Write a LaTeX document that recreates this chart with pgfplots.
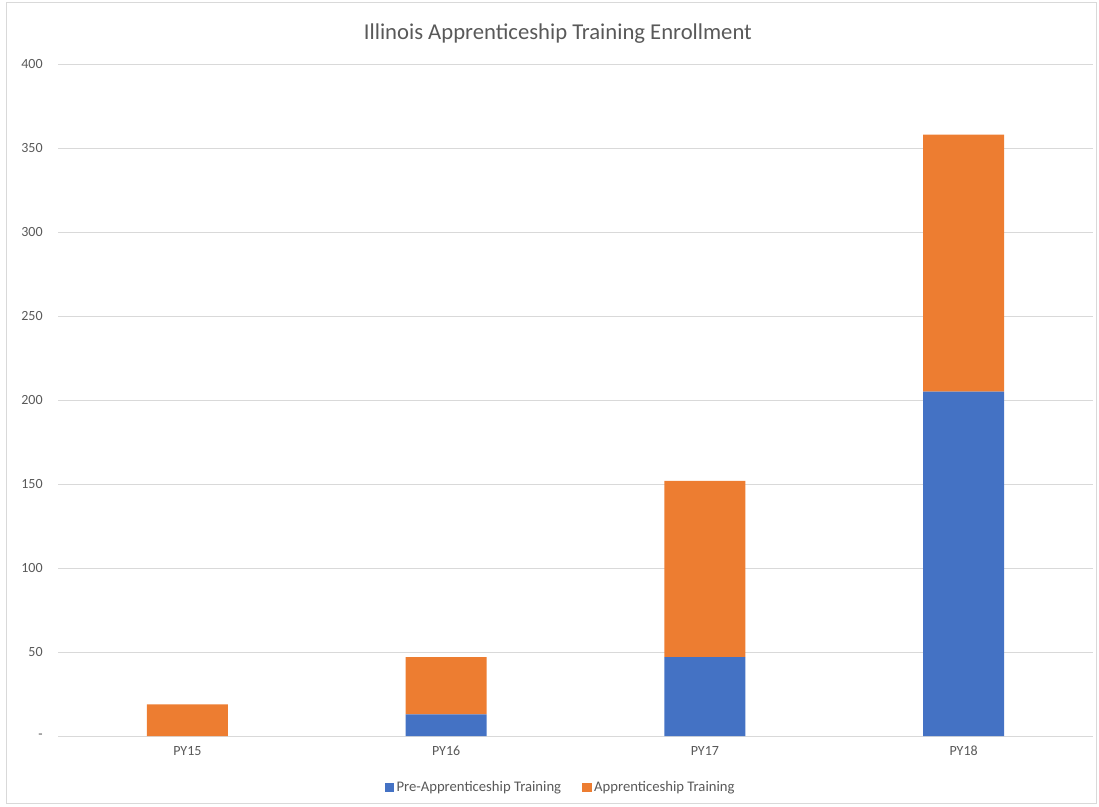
\documentclass[border=0pt]{standalone}
\usepackage{fontspec}
\setmainfont{Carlito}
\usepackage{pgfplots}
\pgfplotsset{compat=1.18}
\definecolor{xlblue}{HTML}{4472C4}
\definecolor{xlorange}{HTML}{ED7D31}
\definecolor{xlgrid}{HTML}{D9D9D9}
\definecolor{xltext}{HTML}{595959}

\begin{document}
\begin{tikzpicture}
\begin{axis}[
  name=ax,
  scale only axis,
  width=776pt, height=504pt,
  ybar stacked, bar width=60.75pt,
  xmin=-0.5, xmax=3.5, ymin=0, ymax=400,
  xtick={0,1,2,3}, xticklabels={PY15,PY16,PY17,PY18},
  ytick={0,50,...,400}, yticklabels={-,50,100,150,200,250,300,350,400},
  ymajorgrids, grid style={xlgrid, line width=0.75pt},
  axis line style={draw=none},
  major tick length=0pt,
  tick label style={font=\fontsize{10.5}{12}\selectfont, text=xltext},
  /pgf/number format/assume math mode=true,
  yticklabel style={xshift=-8pt},
  xticklabel style={yshift=-4pt},
  title={Illinois Apprenticeship Training Enrollment},
  title style={at={(0.483,1)}, anchor=center, yshift=16.5pt,
    font=\fontsize{17}{20}\selectfont, text=xltext},
  legend columns=2,
  legend style={at={(0.486,-0.0759)}, anchor=center, draw=none,
    font=\fontsize{11}{13}\selectfont, text=xltext,
    /tikz/every even column/.append style={column sep=14pt}},
  legend image code/.code={\fill[#1] (0pt,-3.4pt) rectangle (6.8pt,3.4pt);},
]
\addplot[fill=xlblue, draw=none] coordinates {(0,0) (1,13) (2,47) (3,205)};
\addplot[fill=xlorange, draw=none] coordinates {(0,19) (1,34) (2,105) (3,153)};
\legend{Pre-Apprenticeship Training, Apprenticeship Training}
\end{axis}
\draw[xlgrid, line width=0.75pt] ([xshift=-39pt,yshift=-50.25pt]ax.south west) rectangle ([xshift=2.25pt,yshift=45.75pt]ax.north east);
\pgfresetboundingbox
\path ([xshift=-43.5pt,yshift=-52.5pt]ax.south west) rectangle ([xshift=4.5pt,yshift=48pt]ax.north east);
\end{tikzpicture}
\end{document}
